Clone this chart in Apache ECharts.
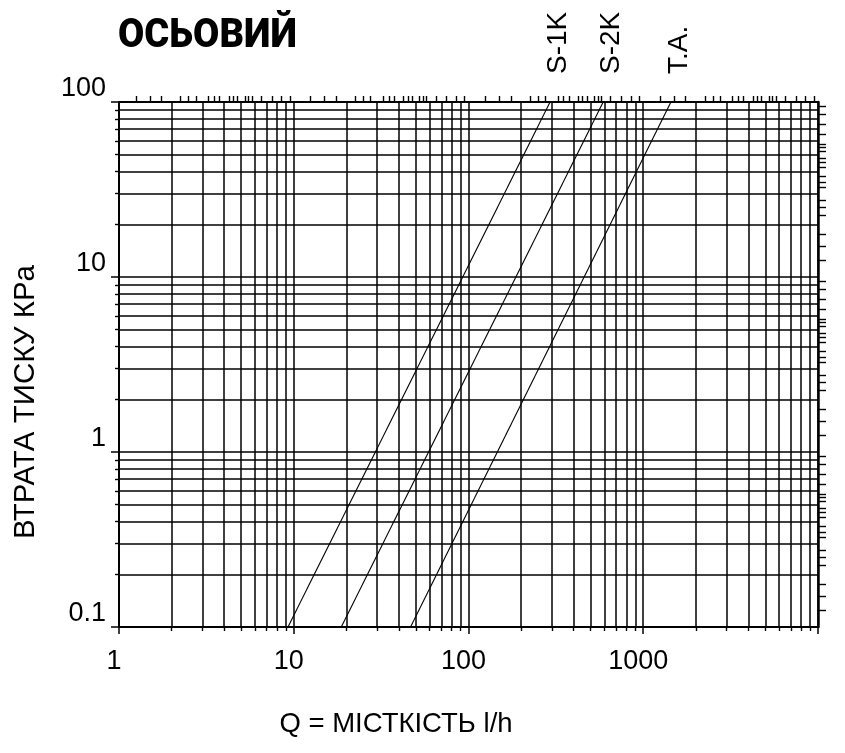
<!DOCTYPE html>
<html><head><meta charset="utf-8">
<script src="https://cdn.jsdelivr.net/npm/echarts@6/dist/echarts.min.js"></script>
<style>html,body{margin:0;padding:0;background:#fff}#c{width:845px;height:753px}</style>
</head><body><div id="c"></div>
<script>
const chartTitle = 'ОСЬОВИЙ';
const xName = 'Q = МІСТКІСТЬ l/h';
const yName = 'ВТРАТА ТИСКУ КPa';
const seriesNames = ['S-1K', 'S-2K', 'T.A.'];
const s1kPoints = [[9.27, 0.1], [293, 100]];
const s2kPoints = [[18.7, 0.1], [590, 100]];
const taPoints = [[46.6, 0.1], [1440, 100]];
const xRange = [1, 10000];
const yRange = [0.1, 100];
const xDecades = [1, 10, 100, 1000];
const yDecades = [0.1, 1, 10];
const edgeTickSteps = [1.25, 1.5, 1.75, 2.25, 2.5, 2.75, 3.25, 3.5, 3.75, 4.25, 4.5, 4.75, 5.25, 5.5, 5.75, 6.5, 7.5, 8.5, 9.5];

const topTicks = [];
xDecades.forEach(d => edgeTickSteps.forEach(s => topTicks.push(+(s * d).toPrecision(6))));
const rightTicks = [];
yDecades.forEach(d => edgeTickSteps.forEach(s => rightTicks.push(+(s * d).toPrecision(6))));

const FONT = '"Liberation Sans", Arial, sans-serif';
const BLACK = '#000';
const gridLine = { lineStyle: { color: BLACK, width: 1.5, type: 'solid' } };
const plainNum = v => String(+v.toPrecision(6));

function mkSeries(name, pts) {
  return {
    name: name, type: 'line', xAxisIndex: 0, yAxisIndex: 0,
    symbol: 'circle', symbolSize: 0, showSymbol: true,
    lineStyle: { color: BLACK, width: 1.1 },
    itemStyle: { color: BLACK },
    label: { show: false },
    emphasis: { disabled: true },
    silent: true,
    clip: false,
    data: pts.map((p, i) => i === pts.length - 1 ? {
      value: p,
      label: {
        show: true, formatter: name, rotate: 90, position: 'top', distance: 0,
        align: 'left', verticalAlign: 'middle', offset: [28, 8],
        fontSize: 28, color: BLACK, fontFamily: FONT
      }
    } : { value: p })
  };
}

const chart = echarts.init(document.getElementById('c'), null, { renderer: 'canvas' });
chart.setOption({
  animation: false,
  backgroundColor: '#fff',
  grid: { left: 119, top: 102, right: 27, bottom: 126, containLabel: false, outerBoundsMode: 'none' },
  xAxis: [{
    type: 'log', logBase: 10, min: xRange[0], max: xRange[1], position: 'bottom',
    axisLine: { show: true, lineStyle: { color: BLACK, width: 2 } },
    axisTick: { show: true, inside: false, length: 7, lineStyle: { color: BLACK, width: 1.5 } },
    minorTick: { show: true, splitNumber: 9, length: 4, lineStyle: { color: BLACK, width: 1.4 } },
    splitLine: Object.assign({ show: true }, gridLine),
    minorSplitLine: Object.assign({ show: true }, gridLine),
    axisLabel: { show: true, fontSize: 27, color: BLACK, fontFamily: FONT, margin: 21, padding: [0, 10, 0, 0],
      formatter: plainNum, showMaxLabel: false, showMinLabel: true }
  }, {
    type: 'log', logBase: 10, min: xRange[0], max: xRange[1], position: 'top',
    axisLine: { show: true, lineStyle: { color: BLACK, width: 2 } },
    axisTick: { show: true, inside: false, length: 6, customValues: topTicks, lineStyle: { color: BLACK, width: 1.4 } },
    axisLabel: { show: false },
    splitLine: { show: false }
  }],
  yAxis: [{
    type: 'log', logBase: 10, min: yRange[0], max: yRange[1], position: 'left',
    axisLine: { show: true, lineStyle: { color: BLACK, width: 2 } },
    axisTick: { show: true, inside: false, length: 8, lineStyle: { color: BLACK, width: 1.5 } },
    minorTick: { show: true, splitNumber: 9, length: 4, lineStyle: { color: BLACK, width: 1.4 } },
    splitLine: Object.assign({ show: true }, gridLine),
    minorSplitLine: Object.assign({ show: true }, gridLine),
    axisLabel: { show: true, fontSize: 27, color: BLACK, fontFamily: FONT, margin: 13, verticalAlign: 'bottom',
      formatter: plainNum, showMinLabel: true, showMaxLabel: true }
  }, {
    type: 'log', logBase: 10, min: yRange[0], max: yRange[1], position: 'right',
    axisLine: { show: true, lineStyle: { color: BLACK, width: 2.5 } },
    axisTick: { show: true, inside: false, length: 8, customValues: rightTicks, lineStyle: { color: BLACK, width: 1.4 } },
    axisLabel: { show: false },
    splitLine: { show: false }
  }],
  graphic: [{
    type: 'text', x: 118, y: 37, scaleX: 0.93,
    style: { text: chartTitle, font: '900 41px Roboto, "Liberation Sans", sans-serif', fill: BLACK, align: 'left', verticalAlign: 'middle' }
  }, {
    type: 'text', x: 396, y: 724,
    style: { text: xName, font: '27.5px ' + FONT, fill: BLACK, align: 'center', verticalAlign: 'middle' }
  }, {
    type: 'text', x: 26, y: 402, rotation: Math.PI / 2,
    style: { text: yName, font: '29.5px ' + FONT, fill: BLACK, align: 'center', verticalAlign: 'middle' }
  }],
  series: [
    mkSeries(seriesNames[0], s1kPoints),
    mkSeries(seriesNames[1], s2kPoints),
    mkSeries(seriesNames[2], taPoints)
  ]
});
</script>
</body></html>
